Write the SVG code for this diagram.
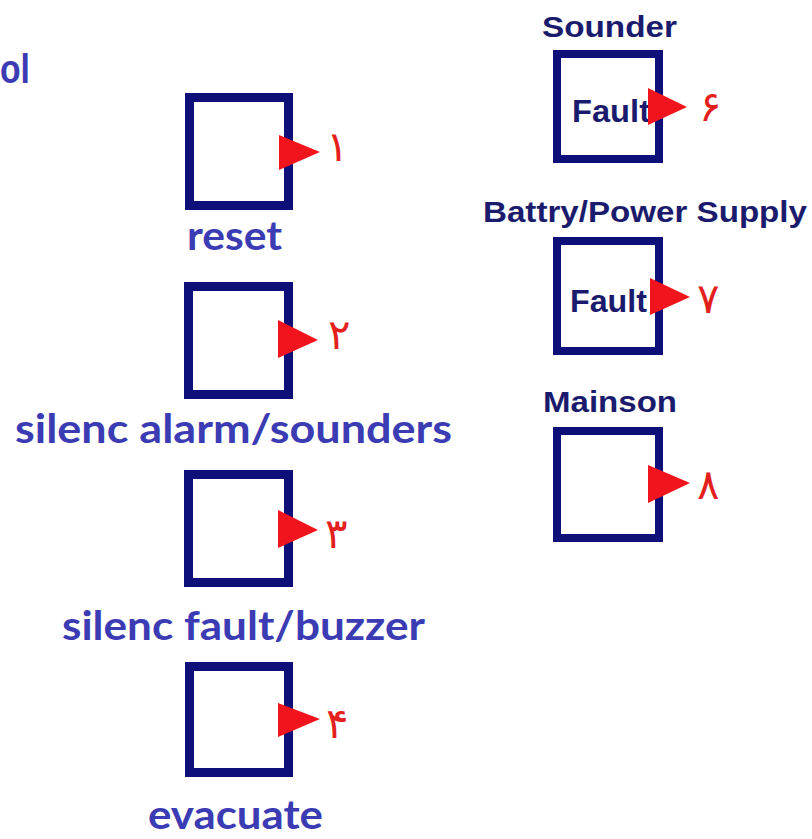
<svg xmlns="http://www.w3.org/2000/svg" width="812" height="839" viewBox="0 0 812 839">
<style>
.box{fill:#ffffff;stroke:#0f0f7a;stroke-width:9}
.boxr{fill:#ffffff;stroke:#0f0f7a;stroke-width:8}
.tri{fill:#f2141c}
.num{fill:#e4201c;font-family:"DejaVu Sans",sans-serif;font-size:42px;font-weight:normal}
.lbl{fill:#3b3bb4;font-family:Lato,"Open Sans",sans-serif;font-weight:bold;font-size:40px}
.rl{fill:#1b1b6e;font-family:"Liberation Sans",Arial,sans-serif;font-weight:bold;font-size:30px}
</style>
<rect width="812" height="839" fill="#ffffff"/>
<text class="lbl" x="0" y="83" textLength="30" lengthAdjust="spacingAndGlyphs" style="font-family:'Liberation Sans',sans-serif;font-size:40px">ol</text>
<g id="n1">
<rect class="box" x="189.5" y="97.5" width="99" height="108"/>
<polygon class="tri" points="279,135 320,152 279,170"/>
<text class="num" x="326" y="161">۱</text>
<text class="lbl" x="187" y="250" textLength="95" lengthAdjust="spacingAndGlyphs">reset</text>
</g>
<g id="n2">
<rect class="box" x="188.5" y="286.5" width="100" height="108"/>
<polygon class="tri" points="278,320 318,340 278,358"/>
<text class="num" x="328" y="349">۲</text>
<text class="lbl" x="15" y="443" textLength="437" lengthAdjust="spacingAndGlyphs">silenc alarm/sounders</text>
</g>
<g id="n3">
<rect class="box" x="188.5" y="474.5" width="100" height="108"/>
<polygon class="tri" points="278,510 318,530 278,548"/>
<text class="num" x="325" y="548">۳</text>
<text class="lbl" x="62" y="640" textLength="363" lengthAdjust="spacingAndGlyphs">silenc fault/buzzer</text>
</g>
<g id="n4">
<rect class="box" x="189.5" y="666.5" width="99" height="106"/>
<polygon class="tri" points="278,703 320,719 278,737"/>
<text class="num" x="326" y="738">۴</text>
<text class="lbl" x="148" y="829" textLength="175" lengthAdjust="spacingAndGlyphs">evacuate</text>
</g>
<g id="n6">
<text class="rl" x="542" y="37" textLength="135" lengthAdjust="spacingAndGlyphs">Sounder</text>
<rect class="boxr" x="557" y="54" width="102" height="105"/>
<text class="rl" x="572" y="122" textLength="78" lengthAdjust="spacingAndGlyphs" style="font-size:32px">Fault</text>
<polygon class="tri" points="648,88 687,107 648,125"/>
<text class="num" x="699" y="121">۶</text>
</g>
<g id="n7">
<text class="rl" x="483" y="222" textLength="324" lengthAdjust="spacingAndGlyphs">Battry/Power Supply</text>
<rect class="boxr" x="557" y="241" width="102" height="110"/>
<text class="rl" x="570" y="312" textLength="77" lengthAdjust="spacingAndGlyphs" style="font-size:32px">Fault</text>
<polygon class="tri" points="650,278 690,297 650,315"/>
<text class="num" x="697" y="313">۷</text>
</g>
<g id="n8">
<text class="rl" x="543" y="412" textLength="134" lengthAdjust="spacingAndGlyphs">Mainson</text>
<rect class="boxr" x="557" y="431" width="102" height="107"/>
<polygon class="tri" points="648,465 690,483 648,503"/>
<text class="num" x="697" y="499">۸</text>
</g>
<g id="connectors"></g>
</svg>
